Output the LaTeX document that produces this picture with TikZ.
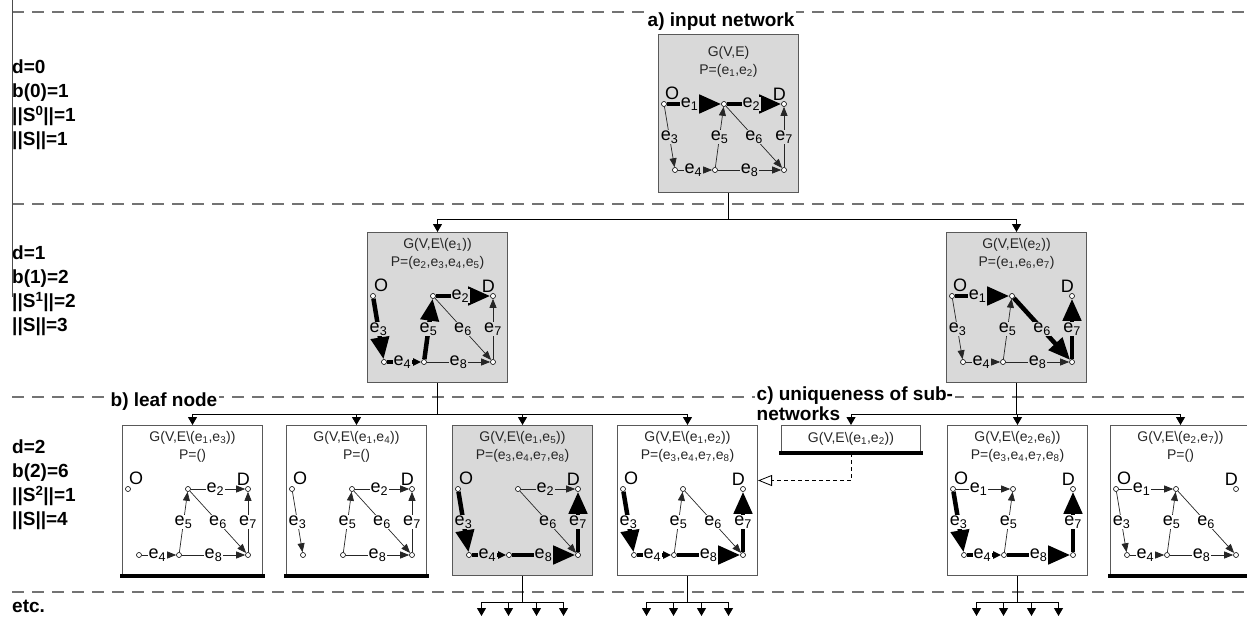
\documentclass[tikz,border=0pt]{standalone}
\usepackage{fontspec}
\setmainfont{Liberation Sans}
\usetikzlibrary{arrows.meta,positioning,calc}

% edge name with index
\newcommand{\esub}[1]{e\textsubscript{#1}}

\begin{document}
\begin{tikzpicture}[
  x=1pt, y=-1pt,
  netbox/.style={draw=black!65, line width=1pt, anchor=north west, minimum width=140, minimum height=150, inner sep=0},
  shaded/.style={fill=black!15},
  ttl/.style={font=\fontsize{14}{18}\selectfont, text=black!85, align=center, inner sep=0, anchor=north},
  lvl/.style={font=\fontsize{19}{24}\selectfont\bfseries, align=left, inner sep=0, anchor=north west},
  capt/.style={font=\fontsize{19}{20}\selectfont\bfseries, align=left, fill=white, inner sep=1.5pt, anchor=north west},
  vtx/.style={circle, draw, fill=white, line width=0.6pt, minimum size=5pt, inner sep=0},
  nl/.style={font=\fontsize{18}{18}\selectfont, inner sep=0},
  el/.style={font=\fontsize{18}{18}\selectfont, inner sep=0.6pt, fill=white},
  elg/.style={el, fill=black!15},
  ed/.style={draw=black!85, line width=0.7pt, -{Triangle[length=9pt,width=7pt]}},
  ped/.style={line width=4.5pt, -{Triangle[length=22pt,width=18pt]}},
  ped4/.style={line width=4.5pt, -{Triangle[length=8pt,width=7pt]}},
  conn/.style={line width=1pt, -{Triangle[length=8pt,width=9pt]}},
  sep/.style={draw=black!55, line width=1.1pt, dash pattern=on 12pt off 8pt},
  reuse/.style={line width=0.8pt, dash pattern=on 4pt off 3pt, -{Triangle[open,length=14pt,width=11pt]}},
  leafbar/.style={line width=4pt},
  net/.pic={
    \node[vtx] (-o) at (6,64) {};
    \node[vtx] (-m) at (66,64) {};
    \node[vtx] (-d) at (126,64) {};
    \node[vtx] (-bl) at (17,130) {};
    \node[vtx] (-bm) at (57,130) {};
    \node[vtx] (-br) at (126,130) {};
    \node[nl, anchor=base west] (-ol) at (7,59) {O};
    \node[nl, anchor=base east] (-dl) at (128,60) {D};
  }
]
\useasboundingbox (0,0) rectangle (1247,621);

% level separators
\draw[sep] (12,12) -- (1247,12);
\draw[sep] (12,204) -- (1247,204);
\draw[sep] (12,397) -- (1247,397);
\draw[sep] (12,592) -- (1247,592);
\draw[black!70, line width=0.8pt] (12,0) -- (12,297);

% level counts
\node[lvl] (lv0) at (12,60) {d=0\\b(0)=1\\||S\textsuperscript{0}||=1\\||S||=1};
\node[lvl] (lv1) at (12,246) {d=1\\b(1)=2\\||S\textsuperscript{1}||=2\\||S||=3};
\node[lvl] (lv2) at (12,440) {d=2\\b(2)=6\\||S\textsuperscript{2}||=1\\||S||=4};
\node[lvl] (lv3) at (12,600) {etc.};

\node[capt] (capa) at (646,11) {a) input network};
\node[capt] (capb) at (109,391) {b) leaf node};
\node[capt] (capc) at (755,385) {c) uniqueness of sub-\\networks};

% d=0
\node[netbox, shaded, minimum height=158] (g0) at (658,34) {};
\node[ttl] (g0-t) at ([yshift=-12pt]g0.north) {G(V,E)\\P=(\esub{1},\esub{2})};
\pic (g0) at (658,40) {net};
\draw[ped] (g0-o) -- node[elg, pos=.42] {\esub{1}} (g0-m);
\draw[ped] (g0-m) -- node[elg, pos=.45] {\esub{2}} (g0-d);
\draw[ed] (g0-o) -- node[elg] {\esub{3}} (g0-bl);
\draw[ed] (g0-bl) -- node[elg, pos=.45] {\esub{4}} (g0-bm);
\draw[ed] (g0-bm) -- node[elg] {\esub{5}} (g0-m);
\draw[ed] (g0-m) -- node[elg] {\esub{6}} (g0-br);
\draw[ed] (g0-br) -- node[elg] {\esub{7}} (g0-d);
\draw[ed] (g0-bm) -- node[elg] {\esub{8}} (g0-br);

% d=1
\node[netbox, shaded] (g1) at (367,232) {};
\node[ttl] (g1-t) at ([yshift=-6pt]g1.north) {G(V,E\textbackslash(\esub{1}))\\P=(\esub{2},\esub{3},\esub{4},\esub{5})};
\pic (g1) at (367,232) {net};
\draw[ped] (g1-m) -- node[elg, pos=.45] {\esub{2}} (g1-d);
\draw[ped] (g1-o) -- node[elg] {\esub{3}} (g1-bl);
\draw[ped4] (g1-bl) -- node[elg, pos=.45] {\esub{4}} (g1-bm);
\draw[ped] (g1-bm) -- node[elg] {\esub{5}} (g1-m);
\draw[ed] (g1-m) -- node[elg] {\esub{6}} (g1-br);
\draw[ed] (g1-br) -- node[elg] {\esub{7}} (g1-d);
\draw[ed] (g1-bm) -- node[elg] {\esub{8}} (g1-br);

\node[netbox, shaded] (g2) at (946,232) {};
\node[ttl] (g2-t) at ([yshift=-6pt]g2.north) {G(V,E\textbackslash(\esub{2}))\\P=(\esub{1},\esub{6},\esub{7})};
\pic (g2) at (946,232) {net};
\draw[ped] (g2-o) -- node[elg, pos=.42] {\esub{1}} (g2-m);
\draw[ed] (g2-o) -- node[elg] {\esub{3}} (g2-bl);
\draw[ed] (g2-bl) -- node[elg, pos=.45] {\esub{4}} (g2-bm);
\draw[ed] (g2-bm) -- node[elg] {\esub{5}} (g2-m);
\draw[ped] (g2-m) -- node[elg] {\esub{6}} (g2-br);
\draw[ped] (g2-br) -- node[elg] {\esub{7}} (g2-d);
\draw[ed] (g2-bm) -- node[elg] {\esub{8}} (g2-br);

% d=2
\node[netbox] (g11) at (122,425) {};
\node[ttl] (g11-t) at ([yshift=-6pt]g11.north) {G(V,E\textbackslash(\esub{1},\esub{3}))\\P=()};
\pic (g11) at (122,425) {net};
\draw[ed] (g11-m) -- node[el, pos=.45] {\esub{2}} (g11-d);
\draw[ed] (g11-bl) -- node[el, pos=.45] {\esub{4}} (g11-bm);
\draw[ed] (g11-bm) -- node[el] {\esub{5}} (g11-m);
\draw[ed] (g11-m) -- node[el] {\esub{6}} (g11-br);
\draw[ed] (g11-br) -- node[el] {\esub{7}} (g11-d);
\draw[ed] (g11-bm) -- node[el] {\esub{8}} (g11-br);

\node[netbox] (g12) at (286,425) {};
\node[ttl] (g12-t) at ([yshift=-6pt]g12.north) {G(V,E\textbackslash(\esub{1},\esub{4}))\\P=()};
\pic (g12) at (286,425) {net};
\draw[ed] (g12-m) -- node[el, pos=.45] {\esub{2}} (g12-d);
\draw[ed] (g12-o) -- node[el] {\esub{3}} (g12-bl);
\draw[ed] (g12-bm) -- node[el] {\esub{5}} (g12-m);
\draw[ed] (g12-m) -- node[el] {\esub{6}} (g12-br);
\draw[ed] (g12-br) -- node[el] {\esub{7}} (g12-d);
\draw[ed] (g12-bm) -- node[el] {\esub{8}} (g12-br);

\node[netbox, shaded] (g13) at (452,425) {};
\node[ttl] (g13-t) at ([yshift=-6pt]g13.north) {G(V,E\textbackslash(\esub{1},\esub{5}))\\P=(\esub{3},\esub{4},\esub{7},\esub{8})};
\pic (g13) at (452,425) {net};
\draw[ed] (g13-m) -- node[elg, pos=.45] {\esub{2}} (g13-d);
\draw[ped] (g13-o) -- node[elg] {\esub{3}} (g13-bl);
\draw[ped4] (g13-bl) -- node[elg, pos=.45] {\esub{4}} (g13-bm);
\draw[ed] (g13-m) -- node[elg] {\esub{6}} (g13-br);
\draw[ped] (g13-br) -- node[elg] {\esub{7}} (g13-d);
\draw[ped] (g13-bm) -- node[elg] {\esub{8}} (g13-br);

\node[netbox] (g14) at (617,425) {};
\node[ttl] (g14-t) at ([yshift=-6pt]g14.north) {G(V,E\textbackslash(\esub{1},\esub{2}))\\P=(\esub{3},\esub{4},\esub{7},\esub{8})};
\pic (g14) at (617,425) {net};
\draw[ped] (g14-o) -- node[el] {\esub{3}} (g14-bl);
\draw[ped4] (g14-bl) -- node[el, pos=.45] {\esub{4}} (g14-bm);
\draw[ed] (g14-bm) -- node[el] {\esub{5}} (g14-m);
\draw[ed] (g14-m) -- node[el] {\esub{6}} (g14-br);
\draw[ped] (g14-br) -- node[el] {\esub{7}} (g14-d);
\draw[ped] (g14-bm) -- node[el] {\esub{8}} (g14-br);

\node[netbox, minimum width=139, minimum height=27, font=\fontsize{14}{18}\selectfont, text=black!85] (gu) at (781,425) {G(V,E\textbackslash(\esub{1},\esub{2}))};

\node[netbox] (g21) at (947,425) {};
\node[ttl] (g21-t) at ([yshift=-6pt]g21.north) {G(V,E\textbackslash(\esub{2},\esub{6}))\\P=(\esub{3},\esub{4},\esub{7},\esub{8})};
\pic (g21) at (947,425) {net};
\draw[ed] (g21-o) -- node[el, pos=.42] {\esub{1}} (g21-m);
\draw[ped] (g21-o) -- node[el] {\esub{3}} (g21-bl);
\draw[ped4] (g21-bl) -- node[el, pos=.45] {\esub{4}} (g21-bm);
\draw[ed] (g21-bm) -- node[el] {\esub{5}} (g21-m);
\draw[ped] (g21-br) -- node[el] {\esub{7}} (g21-d);
\draw[ped] (g21-bm) -- node[el] {\esub{8}} (g21-br);

\node[netbox] (g22) at (1110,425) {};
\node[ttl] (g22-t) at ([yshift=-6pt]g22.north) {G(V,E\textbackslash(\esub{2},\esub{7}))\\P=()};
\pic (g22) at (1110,425) {net};
\draw[ed] (g22-o) -- node[el, pos=.42] {\esub{1}} (g22-m);
\draw[ed] (g22-o) -- node[el] {\esub{3}} (g22-bl);
\draw[ed] (g22-bl) -- node[el, pos=.45] {\esub{4}} (g22-bm);
\draw[ed] (g22-bm) -- node[el] {\esub{5}} (g22-m);
\draw[ed] (g22-m) -- node[el] {\esub{6}} (g22-br);
\draw[ed] (g22-bm) -- node[el] {\esub{8}} (g22-br);

% leaf nodes get a heavy base
\draw[leafbar] ([xshift=-2pt]g11.south west) -- ([xshift=2pt]g11.south east);
\draw[leafbar] ([xshift=-2pt]g12.south west) -- ([xshift=2pt]g12.south east);
\draw[leafbar] ([xshift=-2pt]gu.south west) -- ([xshift=2pt]gu.south east);
\draw[leafbar] ([xshift=-2pt]g22.south west) -- ([xshift=2pt]g22.south east);

% branching
\draw[conn] (g0.south) -- ++(0,26) -| (g1.north);
\draw[conn] (g0.south) -- ++(0,26) -| (g2.north);
\draw[conn] (g1.south) -- ++(0,31) -| (g11.north);
\draw[conn] (g1.south) -- ++(0,31) -| (g12.north);
\draw[conn] (g1.south) -- ++(0,31) -| (g13.north);
\draw[conn] (g1.south) -- ++(0,31) -| (g14.north);
\draw[conn] (g2.south) -- ++(0,31) -| (gu.north);
\draw[conn] (g2.south) -- ++(0,31) -| (g21.north);
\draw[conn] (g2.south) -- ++(0,31) -| (g22.north);
\draw[reuse] (gu.south) |- ([yshift=20pt]g14.east);

\foreach \b in {g13,g14,g21} {
  \foreach \dx in {-41,-14,14,41}
    \draw[conn] (\b.south) -- ++(0,26) -| ++(\dx,14);
}
\end{tikzpicture}
\end{document}
